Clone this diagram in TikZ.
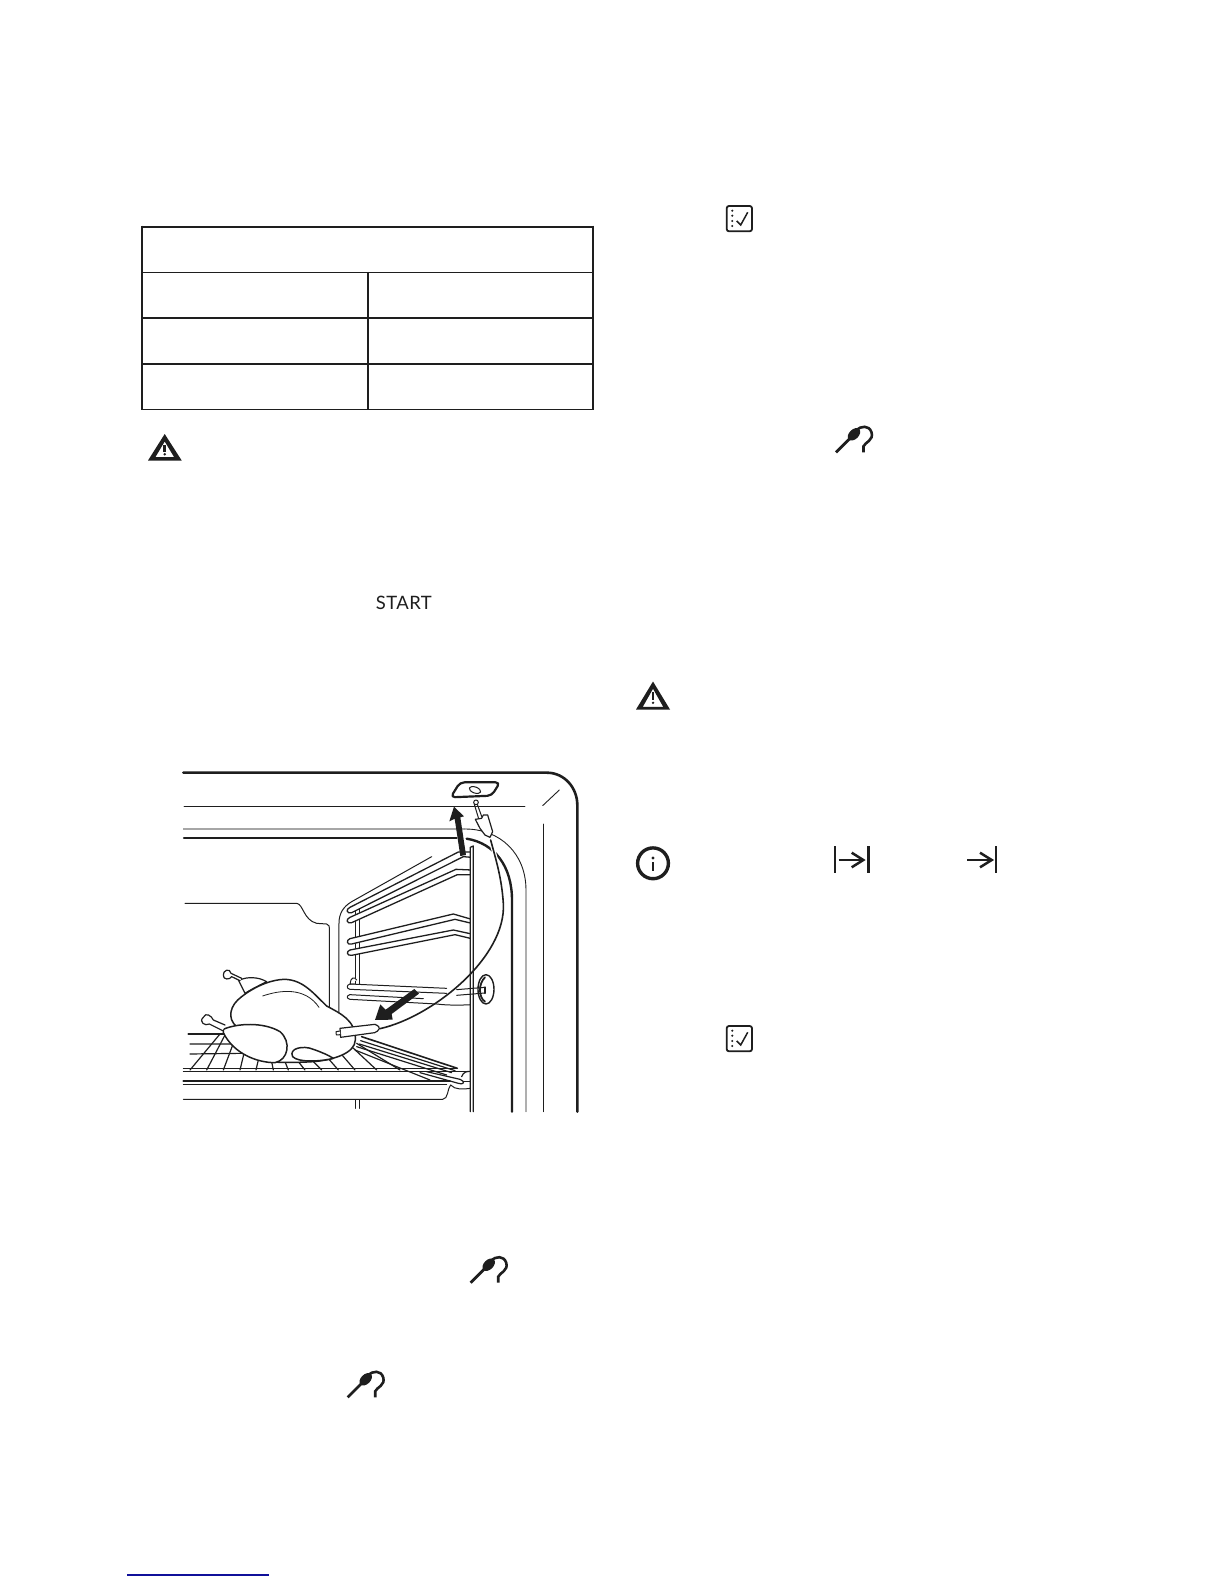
\documentclass[tikz,border=0pt]{standalone}
\usepackage{fontspec}
\setmainfont{Lato}
\definecolor{ink}{HTML}{1E1E1E}
\definecolor{linkblue}{HTML}{10109A}
\tikzset{
  px/.style={line width=#1*0.5669pt},
  inkline/.style={draw=ink,line cap=round,line join=round},
  rail/.style={inkline,px=1.3,fill=white},
  wire/.style={inkline,px=1.2},
  probeicon/.pic={
    \draw[ink,px=2.8] (0,0) -- (16,-16);
    \fill[ink,rotate around={-45:(18,-18)}] (18,-18) ellipse (4.8 and 7.4);
    \draw[ink,px=2.6] (20,-22) .. controls (25,-26.5) and (33,-27.5) .. (35.5,-20)
       .. controls (38,-12) and (29,-10) .. (27.5,-6) -- (27.5,0);
  },
  checkicon/.pic={
    \draw[ink,px=1.8,rounded corners=1.3] (0,0) rectangle (25.3,25.3);
    \foreach \yy in {4.7,9.7,15,20}{\fill[ink] (5.6,\yy) circle (1.15);}
    \draw[ink,px=1.5,line join=miter] (10,15) -- (14,19) -- (21,6.3);
  }
}
\begin{document}
\begin{tikzpicture}[x=0.02cm,y=-0.02cm]
\useasboundingbox (0,0) rectangle (1224,1584);
\fill[white] (0,0) rectangle (1224,1584);

% ---------- table
\draw[ink,px=2.2,line cap=rect] (142,226.7) -- (593,226.7);
\draw[ink,px=2.0] (142,225.7) -- (142,410) (593,225.7) -- (593,410);
\draw[ink,px=1.0] (142,272.3) -- (593,272.3);
\draw[ink,px=2.0] (142,318) -- (593,318) (142,364) -- (593,364);
\draw[ink,px=1.2] (142,409.7) -- (593,409.7);
\draw[ink,px=1.8] (368,272) -- (368,410);

% ---------- warning icons
\fill[ink,even odd rule] (164.7,434) -- (148,460.5) -- (181.7,460.5) -- cycle
   (164.7,441.5) -- (155.5,457) -- (174,457) -- cycle;
\fill[ink] (163.4,444.5) rectangle (166,451.5);
\fill[ink] (164.7,454.2) circle (1.4);

\fill[ink,even odd rule] (653,681.5) -- (636,709.5) -- (670,709.5) -- cycle
   (653,688.8) -- (642.8,706.8) -- (663.2,706.8) -- cycle;
\fill[ink] (652,692) rectangle (654,700);
\fill[ink] (653,702.8) circle (1.3);

% ---------- info icon
\draw[ink,px=3.4] (653,863.3) circle (15.4);
\fill[ink] (653,858) circle (1.7);
\draw[ink,px=2.4] (653,862) -- (653,871);

% ---------- skip icons
\draw[ink,px=2.5] (835,846) -- (835,872.7) (868.3,846) -- (868.3,872.7);
\draw[ink,px=2.5] (838.5,860) -- (863,860);
\draw[ink,px=2.5,line join=miter] (851.7,852.7) -- (863.3,860) -- (851.7,867.3);
\draw[ink,px=2.5] (996,846) -- (996,872.7);
\draw[ink,px=2.5] (967,860) -- (991,860);
\draw[ink,px=2.5,line join=miter] (980,852.7) -- (991.7,860) -- (980,867.3);

% ---------- checklist and probe icons
\pic at (726.7,206) {checkicon};
\pic at (726.7,1026) {checkicon};
\pic at (836,452.3) {probeicon};
\pic at (470.7,1282.7) {probeicon};
\pic at (347.7,1397.3) {probeicon};

% ---------- START
\node[inner sep=0pt,anchor=base west,font=\fontsize{10.5pt}{12pt}\selectfont\addfontfeature{LetterSpace=2.5},text=ink] (starttext) at (375.5,609) {START};

% ---------- footer link rule
\draw[linkblue,px=1.4] (127,1575) -- (269,1575);

% ---------- oven drawing, in crop coordinates
\begin{scope}[shift={(170,760)},x=0.006667cm,y=-0.006667cm]
  % outer frame
  \draw[inkline,px=2.6] (40,38) -- (1130,38) .. controls (1185,38) and (1222,85) .. (1222,135) -- (1222,1055);
  \draw[inkline,px=1.0] (42,139) -- (1065,139);
  \draw[inkline,px=0.9] (1118,137) -- (1168,90);
  \draw[inkline,px=1.0] (1120,192) -- (1120,1055);
  % cavity
  \draw[draw=black!35,px=1.5] (40,207) -- (885,207);
  \draw[inkline,px=0.9] (885,207) .. controls (990,207) and (1068,280) .. (1068,390) -- (1068,1055);
  \draw[inkline,px=2.2] (42,235) -- (860,235);
  \draw[inkline,px=2.4] (890,236) .. controls (975,250) and (1026,320) .. (1026,420) -- (1026,1055);
  % back wall
  \draw[inkline,px=1.0] (45,430) -- (380,430) .. controls (400,432) and (400,480) .. (440,490) -- (470,492) .. controls (478,495) and (478,498) .. (478,510) -- (478,745);
  % left side wall
  \draw[inkline,px=1.0] (785,290) -- (545,425) .. controls (520,440) and (507,460) .. (507,490) -- (507,780);
  % rack rear posts
  \draw[inkline,px=1.0] (556,447) -- (556,672) (568,447) -- (568,672);
  \draw[inkline,px=1.0] (556,1020) -- (556,1045) (568,1020) -- (568,1045);
  \draw[inkline,px=1.0,fill=white] (541,672) .. controls (541,650) and (555,650) .. (560,660);
  % rack rails
  \draw[rail] (880,290) -- (545,458) .. controls (530,462) and (526,448) .. (540,442) -- (865,276) -- (905,276) -- (905,292) -- (880,290);
  \draw[rail] (905,344) -- (862,344) -- (545,488) .. controls (530,492) and (526,478) .. (540,472) -- (858,328) -- (905,330);
  \draw[rail] (905,490) -- (855,478) -- (545,552) .. controls (530,556) and (528,540) .. (540,536) -- (850,462) -- (905,478);
  \draw[rail] (905,536) -- (855,524) -- (545,586) .. controls (530,588) and (528,574) .. (540,570) -- (850,510) -- (905,522);
  % lower rails
  \draw[inkline,px=1.0] (553,672) -- (540,672) .. controls (529,675) and (529,686) .. (540,688) -- (830,700);
  \draw[inkline,px=1.0] (540,672) -- (830,685);
  \draw[inkline,px=1.0] (540,704) .. controls (529,706) and (529,716) .. (540,718) -- (800,732) .. controls (830,736) and (870,736) .. (905,734);
  \draw[inkline,px=1.0] (540,704) -- (760,716);
  % side rear rod
  \fill[white] (901,262) rectangle (910,1055);
  \draw[inkline,px=1.3] (901,1055) -- (901,262) -- (910,258) -- (910,1055);
  % disc
  \draw[inkline,px=1.4,fill=white] (948,688) ellipse (24 and 44);
  \draw[inkline,px=1.8] (945,652) .. controls (925,670) and (925,712) .. (945,725);
  \draw[inkline,px=1.0] (860,689) -- (945,682) (860,706) -- (945,699);
  \draw[inkline,px=2.2] (945,682) -- (945,699);
  % shelf wires
  \draw[inkline,px=2.0] (55,823) -- (165,823);
  \draw[wire] (60,852) -- (190,852) (60,882) -- (215,880);
  \foreach \ax/\ay/\bx/\by in {60/930/150/822,110/930/165/825,160/930/190/850,210/930/222/880,258/930/265/900,310/930/305/905,355/930/345/905,405/930/385/905,455/930/425/900,505/930/470/890,555/930/510/878,620/930/545/860,690/930/560/850}{
     \draw[wire] (\ax,\ay) -- (\bx,\by);
  }
  \foreach \ax/\ay/\bx/\by in {572/842/855/932,568/852/845/938,560/860/830/945,555/870/780/960}{
     \draw[wire] (\ax,\ay) -- (\bx,\by);
  }
  \draw[inkline,px=1.6] (575,830) -- (862,925);
  \draw[inkline,px=1.0] (40,927) -- (860,927);
  \draw[inkline,px=1.0] (40,934) -- (860,934);
  \draw[inkline,px=1.0] (858,934) -- (900,934);
  % tray
  \draw[inkline,px=2.0] (40,962) -- (840,962);
  \draw[inkline,px=1.0] (40,974) -- (830,974);
  \draw[inkline,px=1.0] (40,1018) -- (818,1018) .. controls (835,1018) and (832,985) .. (842,975);
  \draw[inkline,px=1.2] (770,935) -- (870,958) .. controls (885,964) and (885,975) .. (865,970) -- (750,938);
  \draw[inkline,px=1.0] (842,975) .. controls (855,990) and (880,988) .. (901,985);
  \draw[inkline,px=1.0] (880,965) -- (901,965);
  \draw[inkline,px=1.2] (875,950) .. controls (880,936) and (890,934) .. (901,934);
  % rear leg
  \draw[inkline,px=1.2,fill=white] (205,660) -- (225,700) .. controls (240,690) and (270,675) .. (290,665) .. controls (265,650) and (230,650) .. (210,660);
  \draw[inkline,px=1.2,fill=white] (210,662) -- (185,650) .. controls (180,660) and (158,660) .. (160,645) .. controls (158,632) and (180,622) .. (183,640) -- (215,655);
  % chicken body
  \draw[inkline,px=1.5,fill=white] (200,800) .. controls (170,775) and (180,735) .. (215,710)
     .. controls (260,675) and (310,658) .. (345,658) .. controls (400,660) and (430,700) .. (470,738)
     .. controls (510,760) and (558,780) .. (556,840) .. controls (555,880) and (490,900) .. (430,905)
     .. controls (380,908) and (330,908) .. (290,905) -- (200,800);
  \draw[inkline,px=0.8] (278,708) .. controls (330,690) and (405,680) .. (447,742);
  % front leg
  \draw[inkline,px=1.5,fill=white] (160,808) .. controls (200,790) and (280,785) .. (330,815)
     .. controls (365,845) and (355,900) .. (315,908) .. controls (260,908) and (190,880) .. (160,818) -- cycle;
  \draw[inkline,px=1.2,fill=white] (165,795) -- (130,780) .. controls (125,768) and (107,755) .. (100,772)
     .. controls (85,785) and (105,800) .. (118,792) -- (158,812);
  % wing
  \draw[inkline,px=1.5,fill=white] (368,890) .. controls (355,865) and (400,855) .. (430,868)
     .. controls (450,875) and (475,885) .. (490,895) .. controls (450,905) and (385,908) .. (368,890);
  % probe
  \draw[inkline,px=1.2,fill=white] (510,805) -- (615,793) .. controls (625,797) and (630,803) .. (628,806) .. controls (625,812) and (620,816) .. (614,818) -- (512,832) -- cycle;
  \draw[inkline,px=1.0,fill=white] (510,813) -- (498,815) -- (499,825) -- (511,824);
  % cable, with a white halo where it passes the rim
  \draw[white,px=4] (1000,430) .. controls (995,350) and (975,290) .. (962,240);
  \draw[inkline,px=1.6] (630,806) .. controls (790,770) and (1010,590) .. (1000,430) .. controls (995,350) and (975,290) .. (962,240);
  % plug
  \draw[inkline,px=1.0,fill=white] (922,133) -- (936,172) (913,133) -- (926,176);
  \draw[inkline,px=1.0,fill=white] (918,127) circle (7);
  \draw[inkline,px=1.2,fill=white] (916,178) -- (935,175) -- (940,165) -- (953,165) -- (968,215) -- (960,232) -- (945,225) -- (930,205) -- cycle;
  % socket plate
  \draw[inkline,px=2.2,rounded corners=2.5] (842,112) -- (870,67) -- (990,67) -- (965,107) -- cycle;
  \draw[inkline,px=1.0,rotate around={-20:(915,90)}] (915,90) ellipse (18 and 9);
  % arrows
  \fill[ink] (871,288) -- (888,285) -- (871,172) -- (882,169) -- (852,140) -- (838,184) -- (854,176) -- cycle;
  \fill[ink] (733,687) -- (747,701) -- (665,762) -- (668,779) -- (615,780) -- (631,733) -- (647,749) -- cycle;
\end{scope}
\end{tikzpicture}
\end{document}
